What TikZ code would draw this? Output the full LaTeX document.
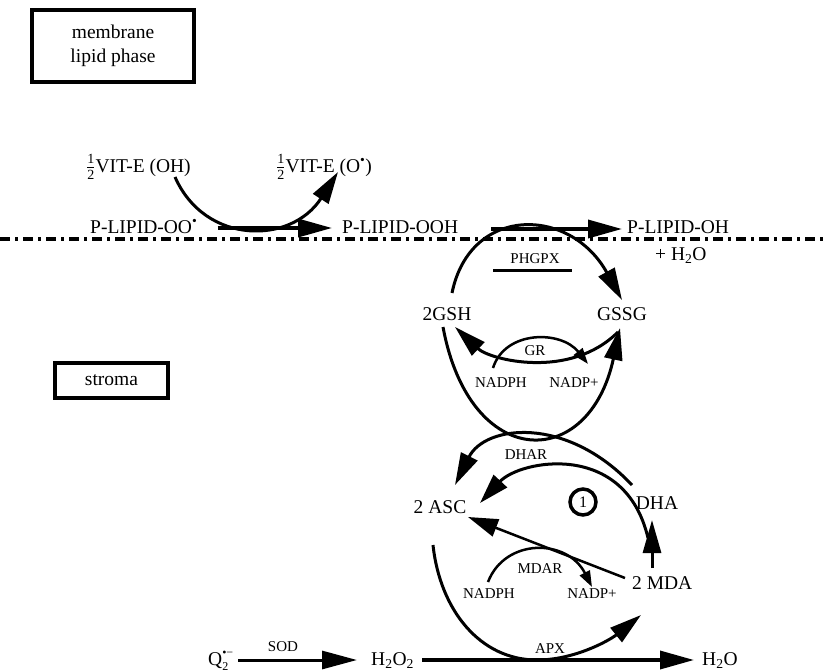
\documentclass[tikz,border=0pt]{standalone}
\usepackage{fontspec}
\setmainfont{Liberation Serif}
\usetikzlibrary{arrows.meta}
% one half, written as a small stacked fraction
\newcommand{\halfof}{\ensuremath{\frac{\hbox{\fontsize{14}{14}\selectfont 1}}{\hbox{\fontsize{14}{14}\selectfont 2}}}}
% radical dot
\newcommand{\rdot}{\textsuperscript{•}}
% superoxide: Q with subscript 2 and a raised radical charge
\newcommand{\superox}{Q\rlap{\raisebox{-5pt}{\fontsize{12}{12}\selectfont 2}}\raisebox{9pt}{\fontsize{12}{12}\selectfont •−}}
\begin{document}
\begin{tikzpicture}[x=1pt,y=-1pt,
  big/.style={font=\fontsize{19.5}{24}\selectfont, inner sep=0pt, anchor=base west},
  small/.style={font=\fontsize{15}{18}\selectfont, inner sep=0pt, anchor=base},
  phasebox/.style={draw, line width=3.5pt, inner sep=0pt, align=center,
                   font=\fontsize{19.5}{24}\selectfont},
  flow/.style={line width=3pt},
  bighead/.style={-{Triangle[length=32pt,width=18pt]}},
  smallhead/.style={-{Triangle[length=16pt,width=11pt]}},
  straight/.style={line width=3.5pt, -{Triangle[length=34pt,width=18pt]}}
]
\useasboundingbox (0,0) rectangle (825,672);

% ---- phase boxes
\node[phasebox, minimum width=162pt, minimum height=72pt] (mem) at (113,46) {membrane\\lipid phase};
\node[phasebox, minimum width=113pt, minimum height=35pt] (stroma) at (111.5,380.5) {stroma};

% ---- membrane surface
\coordinate (surfL) at (0,239);
\coordinate (surfR) at (825,239);
\draw[line width=4.5pt, dash pattern=on 10pt off 5pt on 3pt off 5pt] (surfL) -- (surfR);

% ---- lipid phase species
\node[big] (vitOH) at (86,172) {\halfof VIT-E (OH)};
\node[big] (vitO) at (276,172) {\halfof VIT-E (O\rdot)};
\node[big] (lipOO) at (90,233) {P-LIPID-OO\rdot};
\node[big] (lipOOH) at (342,233) {P-LIPID-OOH};
\node[big] (lipOH) at (627,233) {P-LIPID-OH};
\node[big] (wat1) at (655,260) {+ H\textsubscript{2}O};

% ---- stroma species
\node[big, anchor=base] (gsh) at (447,320) {2GSH};
\node[big, anchor=base] (gssg) at (622,320) {GSSG};
\node[big, anchor=base] (asc) at (440,513) {2 ASC};
\node[big, anchor=base] (dha) at (657,509) {DHA};
\node[big] (mda) at (632,589) {2 MDA};
\node[big] (sup) at (208,665) {\superox};
\node[big] (hp) at (371,665) {H\textsubscript{2}O\textsubscript{2}};
\node[big] (wat2) at (702,665) {H\textsubscript{2}O};

% ---- enzymes and cofactors
\node[small] (phgpx) at (535,263) {PHGPX};
\node[small] (gr) at (535,355) {GR};
\node[small] (nadphA) at (501,387) {NADPH};
\node[small] (nadpA) at (574,387) {NADP+};
\node[small] (dhar) at (526,459) {DHAR};
\node[small] (mdar) at (540,573) {MDAR};
\node[small] (nadphB) at (489,598) {NADPH};
\node[small] (nadpB) at (592,598) {NADP+};
\node[small] (sod) at (283,651) {SOD};
\node[small] (apx) at (550,653) {APX};
\node[draw, circle, line width=3.5pt, minimum size=26pt, inner sep=0pt,
      font=\fontsize{16}{18}\selectfont] (one) at (583,502) {1};
\draw[line width=3pt] (493,270) -- (572,270);

% ---- curve end points
\coordinate (vitS) at (175,177);
\coordinate (vitE) at (338,172);
\coordinate (gshTop) at (452,293);
\coordinate (gssgTop) at (622,300);
\coordinate (gshBot) at (443,327);
\coordinate (gssgBotIn) at (620,328);
\coordinate (gssgBotOut) at (618,332);
\coordinate (gshBotIn) at (455,327);
\coordinate (nadphAtop) at (493,368);
\coordinate (nadpAtop) at (588,364);
\coordinate (dhaL) at (632,485);
\coordinate (ascTop) at (455,485);
\coordinate (dhaLow) at (648,538);
\coordinate (ascR) at (480,503);
\coordinate (ascLow) at (468,517);
\coordinate (mdaL) at (625,578);
\coordinate (mdaTop) at (652,568);
\coordinate (dhaBot) at (652,520);
\coordinate (nadphBtop) at (488,582);
\coordinate (nadpBtop) at (592,587);
\coordinate (ascBot) at (433,545);
\coordinate (apxLow) at (537,660);
\coordinate (mdaBot) at (641,615);

% ---- lipid reactions
\draw[straight, shorten <=20pt, shorten >=10pt] ([yshift=5pt]lipOO.base east) -- ([yshift=5pt]lipOOH.base west);
\draw[flow, bighead] (vitS) .. controls (205,245) and (291,245) .. (vitE);
\draw[straight, shorten <=33pt, shorten >=5pt] ([yshift=4pt]lipOOH.base east) -- ([yshift=4pt]lipOH.base west);
\draw[flow, bighead] (gshTop) .. controls (470,205) and (570,206) .. (gssgTop);

% ---- glutathione and ascorbate cycles
\draw[flow, bighead] (gshBot) .. controls (470,472) and (589,472) .. (gssgBotIn);
\draw[flow, bighead] (gssgBotOut) .. controls (570,380) and (490,360) .. (gshBotIn);
\draw[line width=2.5pt, smallhead] (nadphAtop) .. controls (505,330) and (561,330) .. (nadpAtop);
\draw[flow, bighead] (dhaL) .. controls (566,415) and (485,425) .. (ascTop);
\draw[flow, -{Triangle[length=30pt,width=18pt]}] (dhaLow) .. controls (625,440) and (520,460) .. (ascR);
\draw[line width=2.5pt, -{Triangle[length=30pt,width=18pt]}] (mdaL) -- (ascLow);
\draw[line width=3pt, -{Triangle[length=33pt,width=18pt]}] (mdaTop) -- (dhaBot);
\draw[line width=2.5pt, smallhead] (nadphBtop) .. controls (505,538) and (567,538) .. (nadpBtop);
\draw[flow, bighead] (ascBot) .. controls (440,610) and (480,660) .. (apxLow)
                     .. controls (575,660) and (610,640) .. (mdaBot);

% ---- hydrogen peroxide line
\draw[line width=3pt, -{Triangle[length=35pt,width=18pt]}, shorten <=5pt, shorten >=14pt]
  ([yshift=5pt]sup.base east) -- ([yshift=5pt]hp.base west);
\draw[straight, shorten <=8pt, shorten >=8pt] ([yshift=5pt]hp.base east) -- ([yshift=5pt]wat2.base west);
\end{tikzpicture}
\end{document}
